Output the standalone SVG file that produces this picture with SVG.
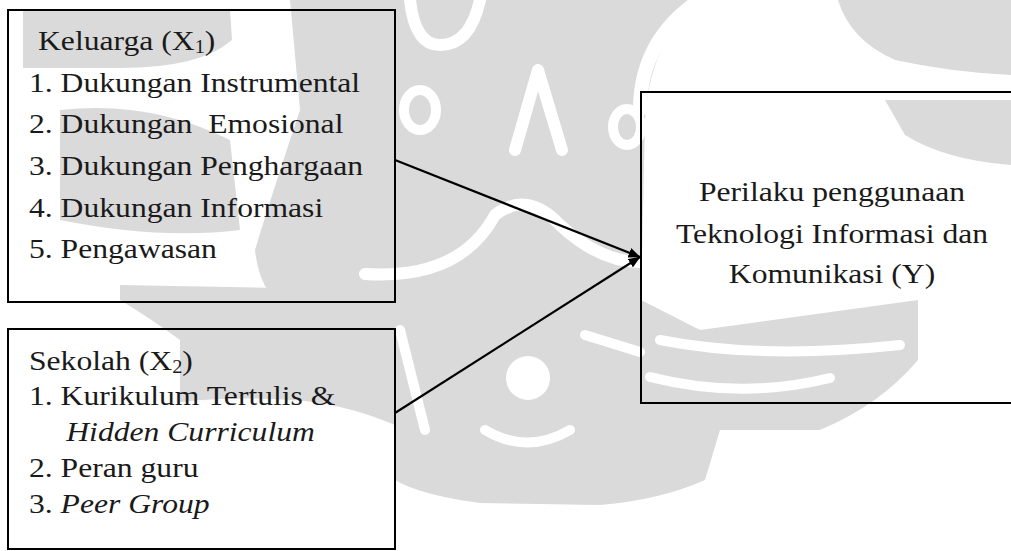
<svg xmlns="http://www.w3.org/2000/svg" width="1011" height="551" viewBox="0 0 1011 551">
  <style>
    .box { fill: none; stroke: #000; stroke-width: 2; }
    .t { font-family: "Liberation Serif", "Times New Roman", serif; font-size: 28px; fill: #1a1a1a; white-space: pre; }
    .i { font-style: italic; }
    .sub { font-size: 18px; }
    .conn { stroke: #000; stroke-width: 2.2; fill: none; }
    .wm { fill: #dadada; stroke: none; }
    .wl { fill: none; stroke: #fff; stroke-linecap: round; stroke-linejoin: round; }
  </style>
  <defs>
    <marker id="ah" viewBox="0 0 12 10" refX="11.5" refY="5" markerWidth="12" markerHeight="10" markerUnits="userSpaceOnUse" orient="auto">
      <path d="M0,0 L12,5 L0,10 Z" fill="#000"/>
    </marker>
  </defs>
  <rect width="1011" height="551" fill="#fff"/>

  <g id="watermark">
    <path class="wm" d="M290,0 L700,0 Q650,40 645,120 L641,300 L700,330 L918,300 L918,360 Q880,405 820,430 L720,430 L705,480 Q660,500 600,505 L480,503 Q420,495 395,480 L395,330 L300,320 Q260,300 255,250 Q270,200 300,110 Z"/>
    <path class="wm" d="M120,285 L395,290 L395,425 Q340,402 290,400 Q230,396 180,402 L180,340 Q150,318 120,300 Z"/>
    <path class="wm" d="M23,10 L230,10 L232,40 Q200,68 120,68 L23,68 Z"/>
    <path class="wm" d="M838,0 L1011,0 L1011,75 Q950,72 895,60 Q850,40 838,0 Z"/>
    <path class="wm" d="M885,100 L1011,100 L1011,165 Q945,160 905,135 Z"/>
    <path class="wm" d="M60,110 Q150,100 230,140 L240,230 Q160,240 60,220 Z"/>
    <circle cx="528" cy="378" r="22" fill="#fff"/>
    <path class="wl" stroke-width="12" d="M410,0 Q415,45 440,45 Q470,45 480,0"/>
    <path class="wl" stroke-width="10" d="M420,110 m-16,0 a16,20 0 1,0 32,0 a16,20 0 1,0 -32,0"/>
    <path class="wl" stroke-width="10" d="M627,127 m-14,0 a14,18 0 1,0 28,0 a14,18 0 1,0 -28,0"/>
    <path class="wl" stroke-width="12" d="M515,150 L538,70 L562,150"/>
    <path class="wl" stroke-width="14" d="M700,0 Q640,40 640,110"/>
    <path class="wl" stroke-width="12" d="M365,274 Q460,280 495,215 Q527,190 560,225 Q600,262 640,262"/>
    <path class="wl" stroke-width="10" d="M400,330 L425,430"/>
    <path class="wl" stroke-width="10" d="M585,335 L640,352"/>
    <path class="wl" stroke-width="10" d="M485,430 Q527,455 570,430"/>
    <path class="wl" stroke-width="10" d="M660,340 Q760,360 900,345"/>
    <path class="wl" stroke-width="10" d="M650,377 Q740,400 830,378"/>
  </g>

  <g id="node-keluarga">
    <rect class="box" x="8" y="10" width="387" height="292"/>
    <g transform="translate(29,0) scale(1.13,1)">
      <text class="t" x="8" y="50">Keluarga (X<tspan class="sub" dy="3">1</tspan><tspan dy="-3">)</tspan></text>
      <text class="t" x="0" y="92">1. Dukungan Instrumental</text>
      <text class="t" x="0" y="133">2. Dukungan  Emosional</text>
      <text class="t" x="0" y="175">3. Dukungan Penghargaan</text>
      <text class="t" x="0" y="217">4. Dukungan Informasi</text>
      <text class="t" x="0" y="258">5. Pengawasan</text>
    </g>
  </g>

  <g id="node-sekolah">
    <rect class="box" x="8" y="329" width="387" height="220"/>
    <g transform="translate(29,0) scale(1.13,1)">
      <text class="t" x="0" y="370">Sekolah (X<tspan class="sub" dy="3">2</tspan><tspan dy="-3">)</tspan></text>
      <text class="t" x="0" y="405">1. Kurikulum Tertulis &amp;</text>
      <text class="t i" x="33" y="441">Hidden Curriculum</text>
      <text class="t" x="0" y="477">2. Peran guru</text>
      <text class="t" x="0" y="513">3. <tspan class="i">Peer Group</tspan></text>
    </g>
  </g>

  <g id="node-perilaku">
    <rect class="box" x="641" y="92" width="380" height="311"/>
    <g transform="translate(832,0) scale(1.13,1)" text-anchor="middle">
      <text class="t" x="0" y="201">Perilaku penggunaan</text>
      <text class="t" x="0" y="243">Teknologi Informasi dan</text>
      <text class="t" x="0" y="283">Komunikasi (Y)</text>
    </g>
  </g>

  <g id="connectors">
    <line class="conn" x1="395" y1="160" x2="640" y2="257" marker-end="url(#ah)"/>
    <line class="conn" x1="395" y1="413" x2="640" y2="257" marker-end="url(#ah)"/>
  </g>
</svg>
